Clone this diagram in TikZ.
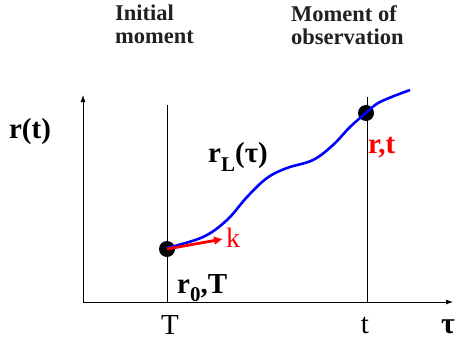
\documentclass[tikz,border=0pt]{standalone}
\usepackage{fontspec}
\setmainfont{Liberation Serif}
\usetikzlibrary{arrows.meta}
\newcommand{\lowsub}[1]{\raisebox{-0.3em}{\fontsize{21}{21}\selectfont #1}}
\begin{document}
\begin{tikzpicture}[x=1pt,y=-1pt,
  axis/.style={line width=0.8pt,-{Latex[length=7pt,width=5pt]}},
  guide/.style={line width=0.8pt},
  dot/.style={circle,fill=black,inner sep=0pt,minimum size=16pt},
  lbl/.style={font=\bfseries\fontsize{22.5}{23}\selectfont,align=left,text=black!87,inner sep=0pt},
  big/.style={font=\bfseries\fontsize{29}{30}\selectfont,inner sep=0pt},
  tick/.style={font=\fontsize{29}{30}\selectfont,inner sep=0pt}]
\useasboundingbox (0,0) rectangle (455,348);
\coordinate (O) at (83,302);
\coordinate (Ytop) at (83,95);
\coordinate (Xend) at (453,302);
\coordinate (Ttop) at (167,105);
\coordinate (Tbot) at (167,302);
\coordinate (ttop) at (367,97);
\coordinate (tbot) at (367,302);
\draw[axis] (O) -- (Ytop);
\draw[axis] (O) -- (Xend);
\draw[guide] (Ttop) -- (Tbot);
\draw[guide] (ttop) -- (tbot);
\node[dot] (p0) at (167,249) {};
\node[dot] (p1) at (366,113) {};
\draw[blue,line width=2.6pt] plot[smooth,tension=0.6] coordinates
  {(167,248) (203,237) (227,220) (247,197) (267,178) (287,168) (313,160)
   (333,145) (350,127) (366,113) (380,102) (410,90)};
\coordinate (kend) at (223,239);
\draw[red,line width=2.8pt,-{Latex[length=9pt,width=9pt]}] (p0.center) -- (kend);
\node[text=red,font=\fontsize{28}{28}\selectfont,anchor=west,inner sep=0pt] (k) at (226,238) {k};
\node[big,anchor=west] (r0T) at (177,288) {r\lowsub{0},T};
\node[big,text=red,anchor=west] (rt) at (368,148) {r,t};
\node[big] (rL) at (238,157) {r\lowsub{L}(τ)};
\node[big] (rtl) at (30,132) {r(t)};
\node[tick] (Tl) at (170,325) {T};
\node[tick] (tl) at (365,325) {t};
\node[font=\bfseries\fontsize{30}{30}\selectfont,inner sep=0pt] (tau) at (448,327) {τ};
\node[lbl,anchor=north west] (init) at (115,5) {Initial\\moment};
\node[lbl,anchor=north west] (obs) at (291,5) {Moment of\\observation};
\end{tikzpicture}
\end{document}
